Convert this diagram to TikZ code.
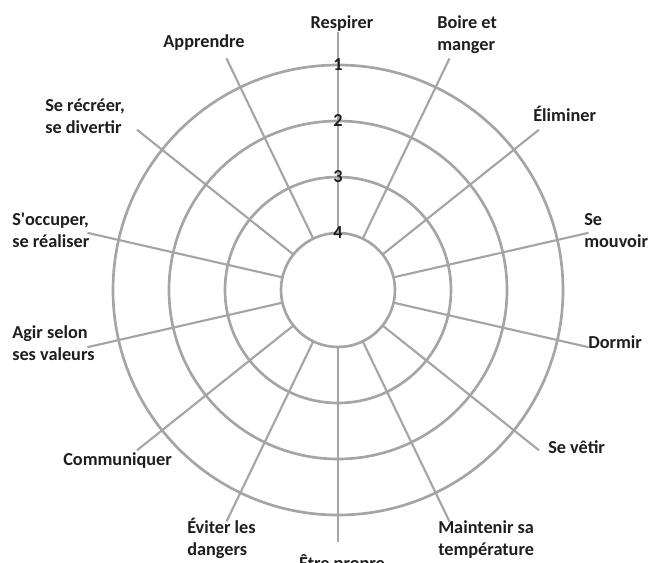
\documentclass[tikz,border=0pt]{standalone}
\usepackage{fontspec}
\setmainfont{Carlito}
\definecolor{gridgray}{RGB}{165,165,165}
\definecolor{textgray}{RGB}{30,30,30}

\begin{document}
\begin{tikzpicture}[x=0.75pt,y=0.75pt,
  ring/.style={draw=gridgray,line width=2pt},
  spoke/.style={draw=gridgray,line width=1.6pt},
  need/.style={font=\bfseries\fontsize{13.7}{16.5}\selectfont,text=textgray,inner sep=0pt,align=left,anchor=base west},
  level/.style={font=\bfseries\fontsize{13.7}{16.5}\selectfont,text=textgray,inner sep=0pt}]

\useasboundingbox (-338,-272) rectangle (311,290);

% Define centre
\coordinate (O) at (0,0);

% Draw spokes (one per need)
\foreach \k/\l in {0/258,1/257,2/257,3/257,4/257,5/257,6/257,7/252,8/257,9/257,10/257,11/257,12/257,13/257} {
  \pgfmathsetmacro\a{90-\k*360/14}
  \coordinate (in\k) at (\a:57);
  \coordinate (out\k) at (\a:\l);
  \draw[spoke] (in\k) -- (out\k);
}

% Draw rings
\foreach \r in {57,113,169,225} \draw[ring] (O) circle (\r);

% Level numbers
\node[level] (n1) at (0,225) {1};
\node[level] (n2) at (0,169) {2};
\node[level] (n3) at (0,113) {3};
\node[level] (n4) at (0,57) {4};

% Need labels (base = last line)
\node[need,anchor=base] (respirer) at (4,262) {Respirer};
\node[need] (boire) at (99,240) {Boire et\\manger};
\node[need] (eliminer) at (195,169) {Éliminer};
\node[need] (mouvoir) at (246,43) {Se\\mouvoir};
\node[need] (dormir) at (250,-58) {Dormir};
\node[need] (vetir) at (210,-163) {Se vêtir};
\node[need] (temperature) at (100,-265) {Maintenir sa\\température};
\node[need,anchor=base] (propre) at (4,-279) {Être propre};
\node[need] (dangers) at (-151,-265) {Éviter les\\dangers};
\node[need] (communiquer) at (-275,-175) {Communiquer};
\node[need] (valeurs) at (-326,-70) {Agir selon\\ses valeurs};
\node[need] (occuper) at (-326,43) {S\textquotesingle occuper,\\se réaliser};
\node[need] (recreer) at (-293,157) {Se récréer,\\se divertir};
\node[need,anchor=base] (apprendre) at (-134,243) {Apprendre};

\end{tikzpicture}
\end{document}
